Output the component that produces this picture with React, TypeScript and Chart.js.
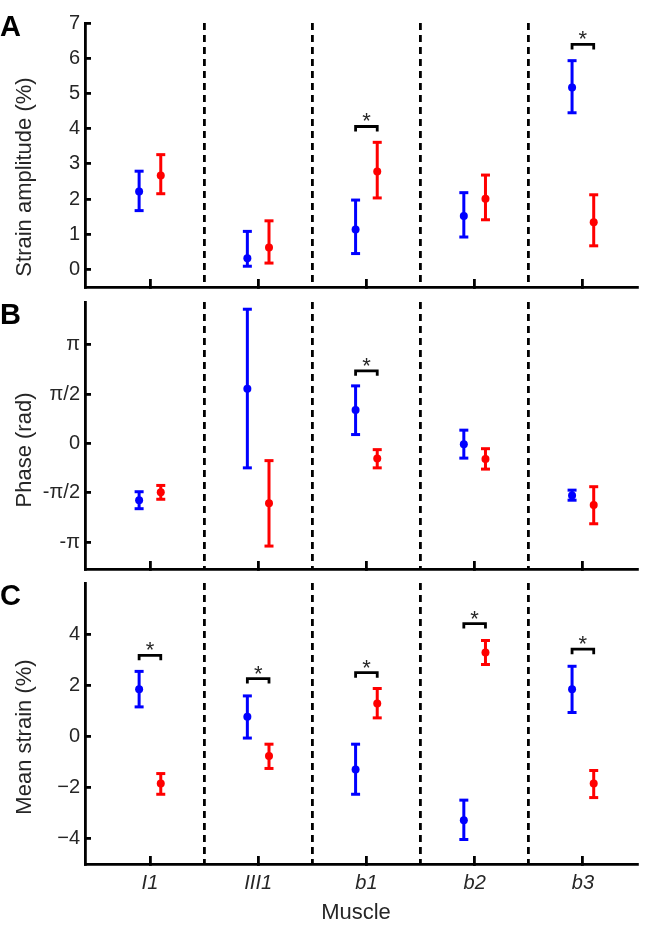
import React, { useEffect, useRef } from 'react';
import { Chart, registerables } from 'chart.js';

Chart.register(...registerables);

const FONT = '"Liberation Sans", Arial, Helvetica, sans-serif';
const TEXT_COLOR = '#262626';
const BLUE = '#0000ff';
const RED = '#ff0000';

// ---- categories / x layout ----
const CATEGORIES = ['I1', 'III1', 'b1', 'b2', 'b3'];
const CATEGORY_POSITIONS = [1, 2, 3, 4, 5];
const SEPARATORS = [1.5, 2.5, 3.5, 4.5];
const GROUP_OFFSET = 0.1;
const X_MIN = 0.4;
const X_MAX = 5.5;

// ---- Panel A: strain amplitude (%) ----
const AMP_TICKS = [0, 1, 2, 3, 4, 5, 6, 7];
const AMP_TICK_LABELS = ['0', '1', '2', '3', '4', '5', '6', '7'];
const AMP_BLUE_MEAN = [2.21, 0.32, 1.13, 1.52, 5.17];
const AMP_BLUE_LOW = [1.67, 0.09, 0.45, 0.92, 4.45];
const AMP_BLUE_HIGH = [2.79, 1.08, 1.97, 2.18, 5.93];
const AMP_RED_MEAN = [2.67, 0.62, 2.78, 2.01, 1.34];
const AMP_RED_LOW = [2.15, 0.18, 2.03, 1.41, 0.67];
const AMP_RED_HIGH = [3.26, 1.38, 3.61, 2.68, 2.12];
const AMP_SIG = [null, null, 4.06, null, 6.39];

// ---- Panel B: phase (rad) ----
const PHASE_TICKS = [-Math.PI, -Math.PI / 2, 0, Math.PI / 2, Math.PI];
const PHASE_TICK_LABELS = ['-π', '-π/2', '0', 'π/2', 'π'];
const PHASE_BLUE_MEAN = [-1.81, 1.74, 1.06, -0.03, -1.66];
const PHASE_BLUE_LOW = [-2.08, -0.78, 0.28, -0.47, -1.81];
const PHASE_BLUE_HIGH = [-1.54, 4.27, 1.83, 0.42, -1.49];
const PHASE_RED_MEAN = [-1.56, -1.91, -0.48, -0.5, -1.96];
const PHASE_RED_LOW = [-1.78, -3.27, -0.78, -0.82, -2.56];
const PHASE_RED_HIGH = [-1.34, -0.55, -0.2, -0.17, -1.38];
const PHASE_SIG = [null, null, 2.31, null, null];

// ---- Panel C: mean strain (%) ----
const MEAN_TICKS = [-4, -2, 0, 2, 4];
const MEAN_TICK_LABELS = ['\u22124', '\u22122', '0', '2', '4'];
const MEAN_BLUE_MEAN = [1.84, 0.76, -1.3, -3.29, 1.84];
const MEAN_BLUE_LOW = [1.15, -0.07, -2.27, -4.04, 0.93];
const MEAN_BLUE_HIGH = [2.54, 1.58, -0.31, -2.5, 2.74];
const MEAN_RED_MEAN = [-1.85, -0.77, 1.28, 3.28, -1.85];
const MEAN_RED_LOW = [-2.27, -1.26, 0.72, 2.81, -2.4];
const MEAN_RED_HIGH = [-1.46, -0.31, 1.87, 3.75, -1.34];
const MEAN_SIG = [3.17, 2.26, 2.49, 4.41, 3.41];

type Panel = {
  blueMean: number[]; blueLow: number[]; blueHigh: number[];
  redMean: number[]; redLow: number[]; redHigh: number[];
  sig: (number | null)[];
  yMin: number; yMax: number; yTicks: number[]; yTickLabels: string[];
  showXLabels: boolean;
  padTop: number; padBottom: number; xAxisHeight: number;
};

const PANELS: Panel[] = [
  {
    blueMean: AMP_BLUE_MEAN, blueLow: AMP_BLUE_LOW, blueHigh: AMP_BLUE_HIGH,
    redMean: AMP_RED_MEAN, redLow: AMP_RED_LOW, redHigh: AMP_RED_HIGH, sig: AMP_SIG,
    yMin: -0.5, yMax: 7, yTicks: AMP_TICKS, yTickLabels: AMP_TICK_LABELS,
    showXLabels: false, padTop: 21, padBottom: 8, xAxisHeight: 0,
  },
  {
    blueMean: PHASE_BLUE_MEAN, blueLow: PHASE_BLUE_LOW, blueHigh: PHASE_BLUE_HIGH,
    redMean: PHASE_RED_MEAN, redLow: PHASE_RED_LOW, redHigh: PHASE_RED_HIGH, sig: PHASE_SIG,
    yMin: -4, yMax: 4.5, yTicks: PHASE_TICKS, yTickLabels: PHASE_TICK_LABELS,
    showXLabels: false, padTop: 30, padBottom: 9, xAxisHeight: 0,
  },
  {
    blueMean: MEAN_BLUE_MEAN, blueLow: MEAN_BLUE_LOW, blueHigh: MEAN_BLUE_HIGH,
    redMean: MEAN_RED_MEAN, redLow: MEAN_RED_LOW, redHigh: MEAN_RED_HIGH, sig: MEAN_SIG,
    yMin: -5, yMax: 6, yTicks: MEAN_TICKS, yTickLabels: MEAN_TICK_LABELS,
    showXLabels: true, padTop: 30, padBottom: 0, xAxisHeight: 63,
  },
];

const CANVAS_TOPS = [0, 272, 553];
const CANVAS_HEIGHTS = [310, 320, 374];

function whiskers(low: number[], high: number[], dx: number) {
  const pts: { x: number; y: number | null }[] = [];
  CATEGORY_POSITIONS.forEach((c, i) => {
    pts.push({ x: c + dx, y: low[i] }, { x: c + dx, y: high[i] }, { x: c + dx, y: null });
  });
  return pts;
}

function means(vals: number[], dx: number) {
  return CATEGORY_POSITIONS.map((c, i) => ({ x: c + dx, y: vals[i] }));
}

function makeSigPlugin(values: (number | null)[]) {
  return {
    id: 'sigBrackets',
    afterDatasetsDraw(chart: any) {
      const xs = chart.scales.x;
      const ys = chart.scales.y;
      const ctx: CanvasRenderingContext2D = chart.ctx;
      ctx.save();
      ctx.strokeStyle = '#000';
      ctx.lineWidth = 2.8;
      ctx.lineJoin = 'miter';
      ctx.fillStyle = TEXT_COLOR;
      ctx.font = `22px ${FONT}`;
      ctx.textAlign = 'center';
      ctx.textBaseline = 'alphabetic';
      values.forEach((v, i) => {
        if (v == null) return;
        const x0 = xs.getPixelForValue(CATEGORY_POSITIONS[i] - GROUP_OFFSET);
        const x1 = xs.getPixelForValue(CATEGORY_POSITIONS[i] + GROUP_OFFSET);
        const y = ys.getPixelForValue(v);
        ctx.beginPath();
        ctx.moveTo(x0, y + 5);
        ctx.lineTo(x0, y);
        ctx.lineTo(x1, y);
        ctx.lineTo(x1, y + 5);
        ctx.stroke();
        ctx.fillText('*', (x0 + x1) / 2, y + 2);
      });
      ctx.restore();
    },
  };
}

function whiskerDataset(low: number[], high: number[], dx: number, color: string) {
  return {
    data: whiskers(low, high, dx),
    showLine: true,
    spanGaps: false,
    borderColor: color,
    borderWidth: 3,
    pointStyle: 'line',
    pointRadius: 4.5,
    pointHoverRadius: 4.5,
    pointBorderWidth: 3,
    pointBorderColor: color,
    pointBackgroundColor: color,
  };
}

function meanDataset(vals: number[], dx: number, color: string) {
  return {
    data: means(vals, dx),
    showLine: false,
    pointStyle: 'circle',
    pointRadius: 4,
    pointHoverRadius: 4,
    pointBorderWidth: 0,
    pointBackgroundColor: color,
    backgroundColor: color,
    borderColor: color,
  };
}

function makeConfig(p: Panel): any {
  return {
    type: 'scatter',
    data: {
      datasets: [
        whiskerDataset(p.blueLow, p.blueHigh, -GROUP_OFFSET, BLUE),
        whiskerDataset(p.redLow, p.redHigh, GROUP_OFFSET, RED),
        meanDataset(p.blueMean, -GROUP_OFFSET, BLUE),
        meanDataset(p.redMean, GROUP_OFFSET, RED),
      ],
    },
    options: {
      responsive: false,
      animation: false,
      events: [],
      layout: { padding: { top: p.padTop, bottom: p.padBottom, left: 0, right: 9 } },
      plugins: { legend: { display: false }, tooltip: { enabled: false } },
      scales: {
        x: {
          type: 'linear',
          position: 'bottom',
          min: X_MIN,
          max: X_MAX,
          afterBuildTicks: (s: any) => {
            s.ticks = CATEGORY_POSITIONS.map((v) => ({ value: v }));
          },
          afterFit: (s: any) => {
            s.height = p.xAxisHeight;
          },
          grid: {
            drawOnChartArea: false,
            drawTicks: true,
            tickLength: -8,
            tickColor: '#000',
            tickWidth: 2.8,
            lineWidth: 2.8,
          },
          border: { display: true, color: '#000', width: 2.8 },
          ticks: {
            display: p.showXLabels,
            padding: 15,
            autoSkip: false,
            maxRotation: 0,
            color: TEXT_COLOR,
            font: { family: FONT, size: 20, style: 'italic' },
            callback: (v: number) => {
              const i = CATEGORY_POSITIONS.indexOf(Math.round(v));
              return i >= 0 ? CATEGORIES[i] : '';
            },
          },
        },
        sep: {
          type: 'linear',
          axis: 'x',
          position: 'top',
          min: X_MIN,
          max: X_MAX,
          afterBuildTicks: (s: any) => {
            s.ticks = SEPARATORS.map((v) => ({ value: v }));
          },
          afterFit: (s: any) => {
            s.height = 0;
          },
          grid: { drawOnChartArea: true, drawTicks: false, color: '#000', lineWidth: 2.8 },
          border: { display: false, dash: [7, 5] },
          ticks: { display: false },
        },
        y: {
          type: 'linear',
          position: 'left',
          min: p.yMin,
          max: p.yMax,
          afterBuildTicks: (s: any) => {
            s.ticks = p.yTicks.map((v) => ({ value: v }));
          },
          afterFit: (s: any) => {
            s.width = 85;
          },
          grid: {
            drawOnChartArea: false,
            drawTicks: true,
            tickLength: -6,
            tickColor: '#000',
            tickWidth: 2.8,
            lineWidth: 2.8,
          },
          border: { display: true, color: '#000', width: 2.8 },
          ticks: {
            padding: 11,
            autoSkip: false,
            color: TEXT_COLOR,
            font: { family: FONT, size: 20 },
            callback: (v: number) => {
              const i = p.yTicks.findIndex((t) => Math.abs(t - v) < 1e-6);
              return i >= 0 ? p.yTickLabels[i] : '';
            },
          },
        },
      },
    },
    plugins: [makeSigPlugin(p.sig)],
  };
}

const titleStyle = (cx: number, cy: number, rotate: boolean): React.CSSProperties => ({
  position: 'absolute',
  left: cx,
  top: cy,
  transform: `translate(-50%, -50%)${rotate ? ' rotate(-90deg)' : ''}`,
  whiteSpace: 'nowrap',
  fontFamily: FONT,
  fontSize: 22,
  lineHeight: 1,
  color: TEXT_COLOR,
});

const letterStyle = (top: number): React.CSSProperties => ({
  position: 'absolute',
  left: 0,
  top,
  fontFamily: FONT,
  fontWeight: 'bold',
  fontSize: 29,
  lineHeight: '29px',
  color: '#000',
});

export default function App() {
  const refs = [useRef<HTMLCanvasElement>(null), useRef<HTMLCanvasElement>(null), useRef<HTMLCanvasElement>(null)];

  useEffect(() => {
    const charts = PANELS.map((p, i) => new Chart(refs[i].current as HTMLCanvasElement, makeConfig(p)));
    return () => charts.forEach((c) => c.destroy());
  }, []);

  return (
    <div style={{ position: 'absolute', left: 0, top: 0, width: 646, height: 927, background: '#fff', overflow: 'hidden' }}>
      {PANELS.map((_, i) => (
        <canvas
          key={i}
          ref={refs[i]}
          width={646}
          height={CANVAS_HEIGHTS[i]}
          style={{ position: 'absolute', left: 0, top: CANVAS_TOPS[i], width: 646, height: CANVAS_HEIGHTS[i] }}
        />
      ))}
      <div style={titleStyle(24, 177, true)}>Strain amplitude (%)</div>
      <div style={titleStyle(24, 450, true)}>Phase (rad)</div>
      <div style={titleStyle(24, 737, true)}>Mean strain (%)</div>
      <div style={titleStyle(356, 912, false)}>Muscle</div>
      <div style={letterStyle(12)}>A</div>
      <div style={letterStyle(300)}>B</div>
      <div style={letterStyle(581)}>C</div>
    </div>
  );
}
